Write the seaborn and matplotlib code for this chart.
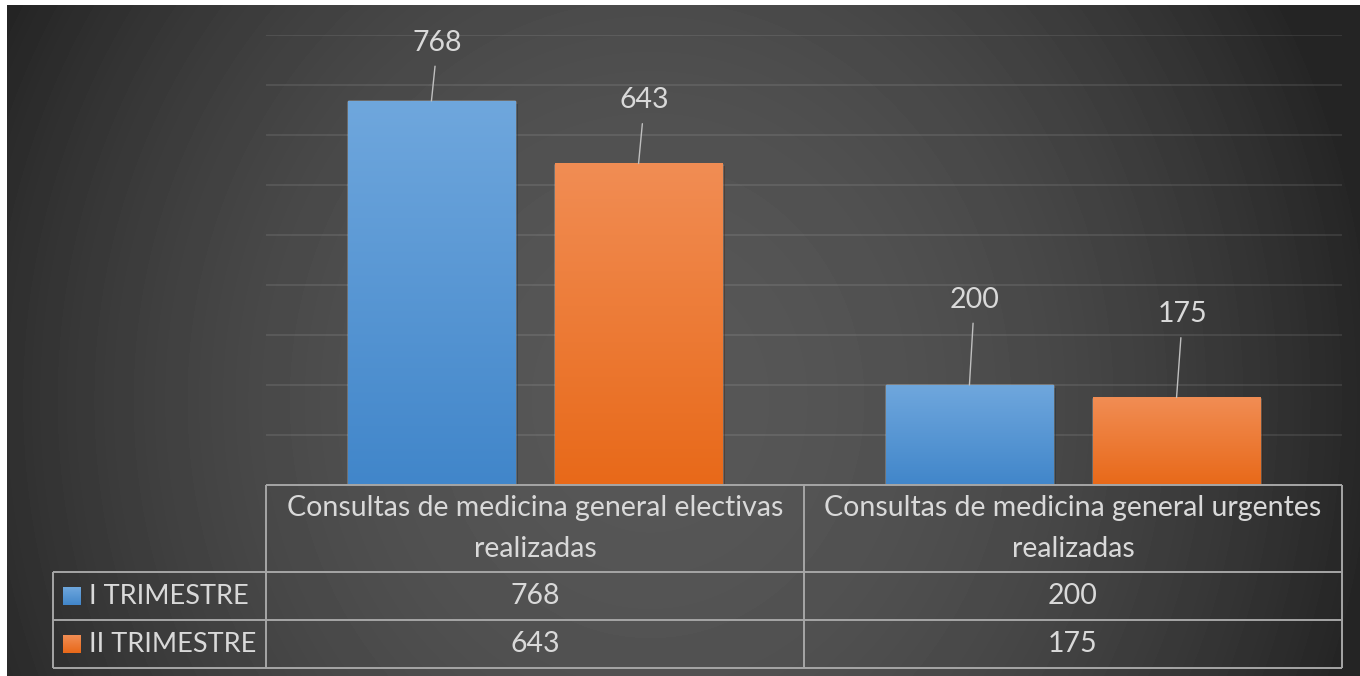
import numpy as np
import pandas as pd
import matplotlib
matplotlib.use("Agg")
import matplotlib.pyplot as plt
import seaborn as sns
import matplotlib.patheffects as pe
from matplotlib.colors import LinearSegmentedColormap

# datos
categorias = ["Consultas de medicina general electivas realizadas",
              "Consultas de medicina general urgentes realizadas"]
series = ["I TRIMESTRE", "II TRIMESTRE"]
trim_1 = [768, 200]
trim_2 = [643, 175]

df = pd.DataFrame({"Consulta": categorias * 2,
                   "Periodo": [series[0]] * 2 + [series[1]] * 2,
                   "Total": trim_1 + trim_2})

# colores (arriba, abajo) del degradado de cada serie
colores = {"I TRIMESTRE": ("#6fa7dd", "#4186ca"),
           "II TRIMESTRE": ("#f18d54", "#e86919")}
texto = "#d9d9d9"
linea_tabla = "#a6a6a6"

W, H = 1360, 676
sns.set_theme(style="dark")
plt.rcParams["font.family"] = ["Lato", "DejaVu Sans"]
fs = 20.5
fs_leyenda = 19.5

fig = plt.figure(figsize=(W / 100, H / 100), dpi=100)
fig.patch.set_facecolor("white")

# fondo degradado radial
bg = fig.add_axes([7 / W, 0, 1 - 7 / W, (H - 5) / H])
yy, xx = np.mgrid[5:H, 7:W]
r2 = ((xx - 650) / 720) ** 2 + ((yy - 400) / 800) ** 2
val = np.clip(87 - 49 * r2, 36, 90) / 255
bg.imshow(val, cmap="gray", vmin=0, vmax=1, aspect="auto", interpolation="bilinear")
bg.axis("off")

# zona de barras
x0, x1, ytop, ybase = 266, 1342, 35, 485
ax = fig.add_axes([x0 / W, (H - ybase) / H, (x1 - x0) / W, (ybase - ytop) / H])
ax.patch.set_alpha(0)
paleta = {s: colores[s][1] for s in series}
sns.barplot(data=df, x="Consulta", y="Total", hue="Periodo", hue_order=series,
            order=categorias, palette=paleta, width=0.77, gap=0.19,
            saturation=1, legend=False, ax=ax)
ax.set_xlim(-0.5, 1.5)
ax.set_ylim(0, 900)
ax.set_yticks(range(0, 901, 100))
ax.yaxis.grid(True, color="white", alpha=0.09, lw=1.5)
ax.set_axisbelow(True)
ax.set_xticks([])
ax.set_yticklabels([])
ax.tick_params(length=0)
ax.set_xlabel("")
ax.set_ylabel("")
for s in ax.spines.values():
    s.set_visible(False)
ax.set_autoscale_on(False)

grad = np.linspace(0, 1, 256).reshape(-1, 1)
barras = sorted(ax.patches, key=lambda p: p.get_x())
# desplazamiento de etiquetas (px), en orden de izquierda a derecha
desplaz = [(6, 58), (6, 63), (5, 85), (6, 83)]
for p, (dx, dy) in zip(barras, desplaz):
    x, w, h = p.get_x(), p.get_width(), p.get_height()
    fc = matplotlib.colors.to_hex(p.get_facecolor())
    serie = [s for s in series if colores[s][1] == fc][0]
    cmap = LinearSegmentedColormap.from_list(serie, [colores[serie][1], colores[serie][0]])
    p.set_path_effects([pe.SimplePatchShadow(offset=(2, -2), alpha=0.35), pe.Normal()])
    ax.imshow(grad, cmap=cmap, extent=[x, x + w, 0, h], origin="lower",
              aspect="auto", zorder=p.get_zorder() + 0.1)
    ax.annotate(f"{h:.0f}", xy=(x + w / 2, h), xytext=(dx, dy),
                textcoords="offset pixels", ha="center", va="center",
                fontsize=fs, color=texto,
                arrowprops=dict(arrowstyle="-", color="#bfbfbf", lw=1,
                                shrinkA=5, shrinkB=0))

# tabla de datos
ov = fig.add_axes([0, 0, 1, 1])
ov.set_xlim(0, W)
ov.set_ylim(H, 0)
ov.axis("off")
ov.patch.set_alpha(0)

xl = 53
xm = (x0 + x1) / 2
filas = [ybase, 572, 620, 668]
kw = dict(color=linea_tabla, lw=1.4, solid_capstyle="butt")
ov.plot([x0, x1], [filas[0]] * 2, **kw)
for yv in filas[1:]:
    ov.plot([xl, x1], [yv, yv], **kw)
ov.plot([xl, xl], [filas[1], filas[3]], **kw)
for xv in [x0, xm, x1]:
    ov.plot([xv, xv], [filas[0], filas[3]], **kw)

centros = [(x0 + xm) / 2, (xm + x1) / 2]
for c, cat in zip(centros, categorias):
    l1, l2 = cat.rsplit(" ", 1)
    ov.text(c, 508, l1, ha="center", va="center", fontsize=fs, color=texto)
    ov.text(c, 549, l2, ha="center", va="center", fontsize=fs, color=texto)

for i, (s, vals) in enumerate(zip(series, [trim_1, trim_2])):
    yc = (filas[i + 1] + filas[i + 2]) / 2
    top, bot = colores[s]
    cm = LinearSegmentedColormap.from_list(s + "_l", [top, bot])
    ov.imshow(grad, cmap=cm, extent=[63, 81, yc + 9, yc - 9], origin="upper",
              aspect="auto", zorder=3)
    ov.text(89, yc, s, ha="left", va="center", fontsize=fs_leyenda, color=texto)
    for c, v in zip(centros, vals):
        ov.text(c, yc, f"{v}", ha="center", va="center", fontsize=fs, color=texto)
ov.set_xlim(0, W)
ov.set_ylim(H, 0)

fig.savefig("out.png", dpi=100, facecolor=fig.get_facecolor())
